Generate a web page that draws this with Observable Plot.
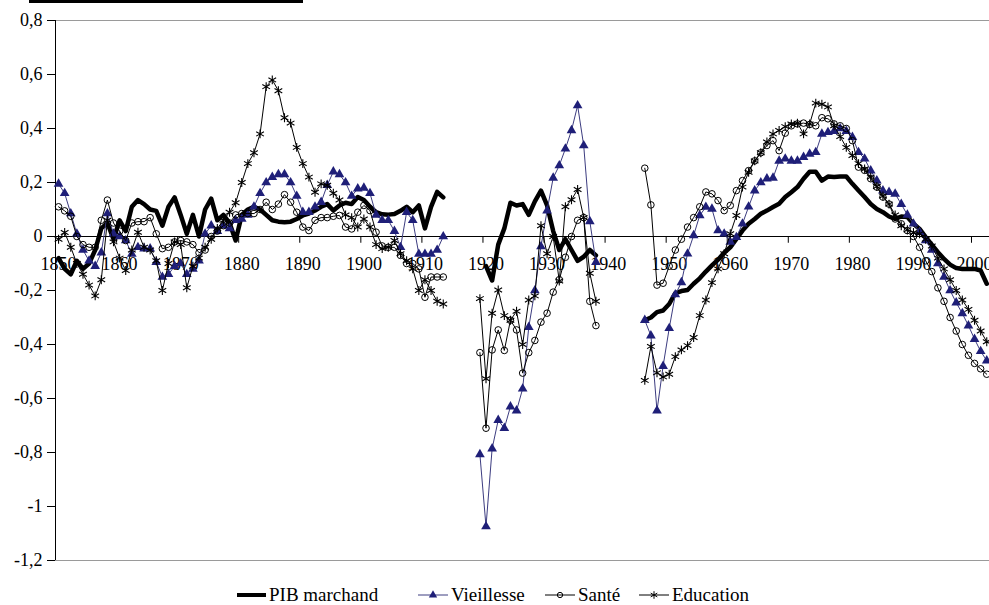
<!DOCTYPE html>
<html><head><meta charset="utf-8">
<script src="https://cdn.jsdelivr.net/npm/d3@7"></script>
<script src="https://cdn.jsdelivr.net/npm/@observablehq/plot@0.6"></script>
<style>
body{margin:0;background:#fff;font-family:"Liberation Serif",Tinos,"Times New Roman","DejaVu Serif",serif;}
#wrap{position:relative;width:989px;height:605px;overflow:hidden;background:#fff;}
#topline{position:absolute;left:29px;top:0;width:274px;height:3px;background:#000;}
#chart{position:absolute;left:0;top:0;}
.item{position:absolute;top:583px;height:24px;display:flex;align-items:center;font-size:19px;color:#000;white-space:nowrap;}
.item svg{margin-right:3px;}
</style></head><body>
<div id="wrap"><div id="chart"></div><div id="topline"></div></div>
<script>
// Years 1850..2002 (gaps 1914-1918 and 1939-1945 are null)
const firstYear = 1850, lastYear = 2002;
const xTickYears = [1850,1860,1870,1880,1890,1900,1910,1920,1930,1940,1950,1960,1970,1980,1990,2000];
const yTicks = [-1.2,-1,-0.8,-0.6,-0.4,-0.2,0,0.2,0.4,0.6,0.8];
const seriesNames = ["PIB marchand","Vieillesse","Santé","Education"];

const pib = [
 -0.08,-0.12,-0.14,-0.09,-0.12,-0.10,-0.05,0.03,0.05,-0.01,
 0.06,0.02,0.11,0.135,0.12,0.10,0.095,0.04,0.11,0.145,
 0.08,0.01,0.08,0.0,0.10,0.14,0.06,0.08,0.05,-0.015,
 0.08,0.10,0.11,0.10,0.08,0.06,0.055,0.053,0.055,0.065,
 0.078,0.085,0.096,0.11,0.12,0.096,0.115,0.125,0.12,0.146,
 0.135,0.11,0.09,0.082,0.081,0.083,0.095,0.11,0.09,0.115,
 0.03,0.11,0.165,0.145,
 null,null,null,null,null,
 null,-0.11,-0.163,-0.03,0.03,0.125,0.115,0.12,0.08,0.13,
 0.17,0.115,0.02,-0.05,-0.01,-0.05,-0.09,-0.075,-0.05,-0.07,
 null,null,null,null,null,null,null,
 -0.31,-0.30,-0.28,-0.274,-0.25,-0.21,-0.202,-0.198,-0.175,-0.155,
 -0.13,-0.107,-0.086,-0.06,-0.04,-0.009,0.022,0.047,0.065,0.084,
 0.096,0.109,0.121,0.146,0.164,0.183,0.214,0.24,0.24,0.207,
 0.222,0.22,0.222,0.222,0.195,0.17,0.146,0.12,0.102,0.09,
 0.074,0.065,0.074,0.072,0.047,0.028,-0.002,-0.03,-0.058,-0.083,
 -0.104,-0.117,-0.12,-0.12,-0.12,-0.126,-0.175
];
const vieillesse = [
 0.195,0.16,0.085,0.01,-0.05,-0.09,-0.11,-0.06,0.085,0.01,
 0.0,-0.015,-0.065,-0.04,-0.045,-0.045,-0.095,-0.15,-0.14,-0.11,
 -0.10,-0.14,-0.12,-0.09,0.01,0.04,0.02,0.04,0.03,0.06,
 0.065,0.08,0.11,0.16,0.20,0.22,0.23,0.23,0.20,0.15,
 0.09,0.09,0.11,0.127,0.19,0.24,0.23,0.20,0.15,0.177,
 0.18,0.16,0.08,0.06,0.06,0.02,-0.04,0.09,0.06,-0.065,
 -0.065,-0.065,-0.05,0.0,
 null,null,null,null,null,
 -0.807,-1.074,-0.786,-0.68,-0.71,-0.63,-0.645,-0.564,-0.336,-0.2,
 -0.037,0.096,0.217,0.263,0.325,0.393,0.485,0.337,0.056,-0.095,
 null,null,null,null,null,null,null,
 -0.31,-0.367,-0.645,-0.48,-0.34,-0.215,-0.17,-0.064,0.004,0.078,
 0.109,0.102,0.022,0.01,-0.02,-0.003,0.047,0.11,0.17,0.2,
 0.214,0.217,0.28,0.288,0.28,0.28,0.294,0.306,0.312,0.38,
 0.386,0.39,0.40,0.39,0.368,0.312,0.288,0.244,0.207,0.17,
 0.164,0.158,0.12,0.08,0.047,0.016,-0.015,-0.05,-0.10,-0.15,
 -0.20,-0.245,-0.285,-0.33,-0.38,-0.425,-0.46
];
const sante = [
 0.11,0.095,0.075,0.0,-0.03,-0.04,-0.04,0.06,0.135,0.05,
 0.02,-0.015,0.05,0.055,0.055,0.07,0.01,-0.045,-0.04,-0.02,
 -0.015,-0.02,-0.03,-0.06,-0.05,0.0,0.02,0.04,0.05,0.08,
 0.085,0.085,0.085,0.10,0.127,0.10,0.12,0.155,0.127,0.09,
 0.035,0.022,0.06,0.07,0.07,0.075,0.078,0.035,0.028,0.09,
 0.115,0.096,0.016,-0.035,-0.04,-0.04,-0.07,-0.10,-0.10,-0.12,
 -0.225,-0.15,-0.15,-0.15,
 null,null,null,null,null,
 -0.43,-0.71,-0.42,-0.346,-0.422,-0.31,-0.346,-0.506,-0.43,-0.385,
 -0.317,-0.284,-0.206,-0.16,-0.077,0.0,0.06,0.07,-0.24,-0.33,
 null,null,null,null,null,null,null,
 0.253,0.117,-0.18,-0.173,-0.11,-0.05,-0.01,0.035,0.07,0.11,
 0.165,0.158,0.133,0.096,0.115,0.17,0.207,0.244,0.28,0.31,
 0.337,0.355,0.318,0.383,0.41,0.417,0.42,0.415,0.41,0.44,
 0.436,0.417,0.41,0.40,0.355,0.257,0.245,0.214,0.183,0.146,
 0.12,0.065,0.047,0.022,0.0,-0.04,-0.09,-0.13,-0.19,-0.24,
 -0.30,-0.35,-0.40,-0.44,-0.47,-0.49,-0.51
];
const education = [
 -0.01,0.015,-0.04,-0.10,-0.14,-0.18,-0.22,-0.16,0.06,-0.02,
 -0.08,-0.126,-0.05,0.016,-0.04,-0.05,-0.09,-0.20,-0.10,-0.02,
 -0.03,-0.19,-0.11,-0.08,-0.04,-0.01,0.03,0.06,0.09,0.125,
 0.20,0.27,0.31,0.38,0.555,0.58,0.54,0.44,0.42,0.33,
 0.27,0.22,0.164,0.195,0.19,0.16,0.135,0.08,0.07,0.035,
 0.065,0.035,-0.03,-0.045,-0.04,-0.015,-0.064,-0.09,-0.12,-0.2,
 -0.16,-0.2,-0.24,-0.25,
 null,null,null,null,null,
 -0.23,-0.527,-0.284,-0.198,-0.293,-0.31,-0.277,-0.4,-0.235,-0.22,
 0.04,-0.064,0.0,-0.165,0.11,0.136,0.174,0.07,-0.136,-0.24,
 null,null,null,null,null,null,null,
 -0.533,-0.407,-0.505,-0.52,-0.51,-0.445,-0.42,-0.404,-0.374,-0.293,
 -0.235,-0.171,-0.12,-0.064,0.01,0.078,0.183,0.238,0.28,0.31,
 0.35,0.38,0.393,0.407,0.417,0.42,0.38,0.417,0.494,0.49,
 0.48,0.41,0.37,0.33,0.30,0.27,0.25,0.22,0.185,0.15,
 0.12,0.08,0.04,0.025,0.015,0.01,-0.01,-0.035,-0.08,-0.12,
 -0.16,-0.2,-0.235,-0.27,-0.31,-0.35,-0.39
];

const years = d3.range(firstYear, lastYear + 1);
const rows = years.map((year, i) => ({year, pib: pib[i], vie: vieillesse[i], sante: sante[i], edu: education[i]}));

const blue = "#1f1f78";
const fmt = d => d === 0 ? "0" : String(+d.toFixed(1)).replace(".", ",");
const font = "Liberation Serif, Tinos, Times New Roman, DejaVu Serif, serif";

const chart = Plot.plot({
  width: 989, height: 575,
  marginTop: 20, marginBottom: 15, marginLeft: 55, marginRight: 0,
  x: {domain: [1849.5, 2002.45], axis: null},
  y: {domain: [-1.2, 0.8]},
  style: {fontFamily: font, fontSize: "18px", background: "#fff", color: "#000", overflow: "visible"},
  marks: [
    Plot.ruleY([0.8, -1.2], {stroke: "#9a9a9a", strokeWidth: 1.2}),
    Plot.text(xTickYears, {x: d => d, y: 0, dy: 28, text: d => String(d), fontSize: 18, fontFamily: font, fill: "#000"}),
    Plot.ruleX(xTickYears, {x: d => d - 0.5, y1: 0, y2: -0.025, stroke: "#000"}),
    Plot.ruleY([0], {stroke: "#000"}),
    Plot.axisY({ticks: yTicks, tickFormat: fmt, tickSize: 8, tickPadding: 5, fontSize: 18, fontFamily: font, label: null}),
    Plot.ruleX([1849.5], {stroke: "#000"}),
    Plot.line(rows, {x: "year", y: "pib", stroke: "#000", strokeWidth: 4.5, strokeLinejoin: "round"}),
    Plot.line(rows, {x: "year", y: "vie", stroke: "#3c3c80", strokeWidth: 1}),
    Plot.dot(rows, {x: "year", y: "vie", symbol: "triangle", r: 3.6, fill: blue, stroke: "none"}),
    Plot.line(rows, {x: "year", y: "sante", stroke: "#000", strokeWidth: 1}),
    Plot.dot(rows, {x: "year", y: "sante", symbol: "circle", r: 3.3, fill: "none", stroke: "#000", strokeWidth: 1}),
    Plot.line(rows, {x: "year", y: "edu", stroke: "#000", strokeWidth: 1}),
    Plot.dot(rows, {x: "year", y: "edu", symbol: "asterisk", r: 4.2, stroke: "#000", strokeWidth: 1.1})
  ]
});
document.getElementById("chart").appendChild(chart);

// Legend
const legendLeft = [237, 418, 545, 639];
const sampleW = [29, 30, 30, 30];
const wrap = document.getElementById("wrap");
seriesNames.forEach((name, i) => {
  const div = document.createElement("div");
  div.className = "item";
  div.style.left = legendLeft[i] + "px";
  const w = sampleW[i];
  const svg = d3.create("svg").attr("width", w).attr("height", 14);
  if (i === 0) {
    svg.append("line").attr("x1", 0).attr("x2", w).attr("y1", 7).attr("y2", 7).attr("stroke", "#000").attr("stroke-width", 4);
  } else {
    svg.append("line").attr("x1", 0).attr("x2", w).attr("y1", 7).attr("y2", 7)
      .attr("stroke", i === 1 ? "#3c3c80" : "#000").attr("stroke-width", 1);
    const type = i === 1 ? d3.symbolTriangle : i === 2 ? d3.symbolCircle : d3.symbolAsterisk;
    const size = i === 1 ? 30 : i === 2 ? 22 : 40;
    const p = svg.append("path").attr("d", d3.symbol(type, size)()).attr("transform", `translate(${w/2},7)`);
    if (i === 1) p.attr("fill", blue);
    else p.attr("fill", "none").attr("stroke", "#000");
  }
  div.appendChild(svg.node());
  const span = document.createElement("span");
  span.textContent = name;
  div.appendChild(span);
  wrap.appendChild(div);
});
</script>
</body></html>
